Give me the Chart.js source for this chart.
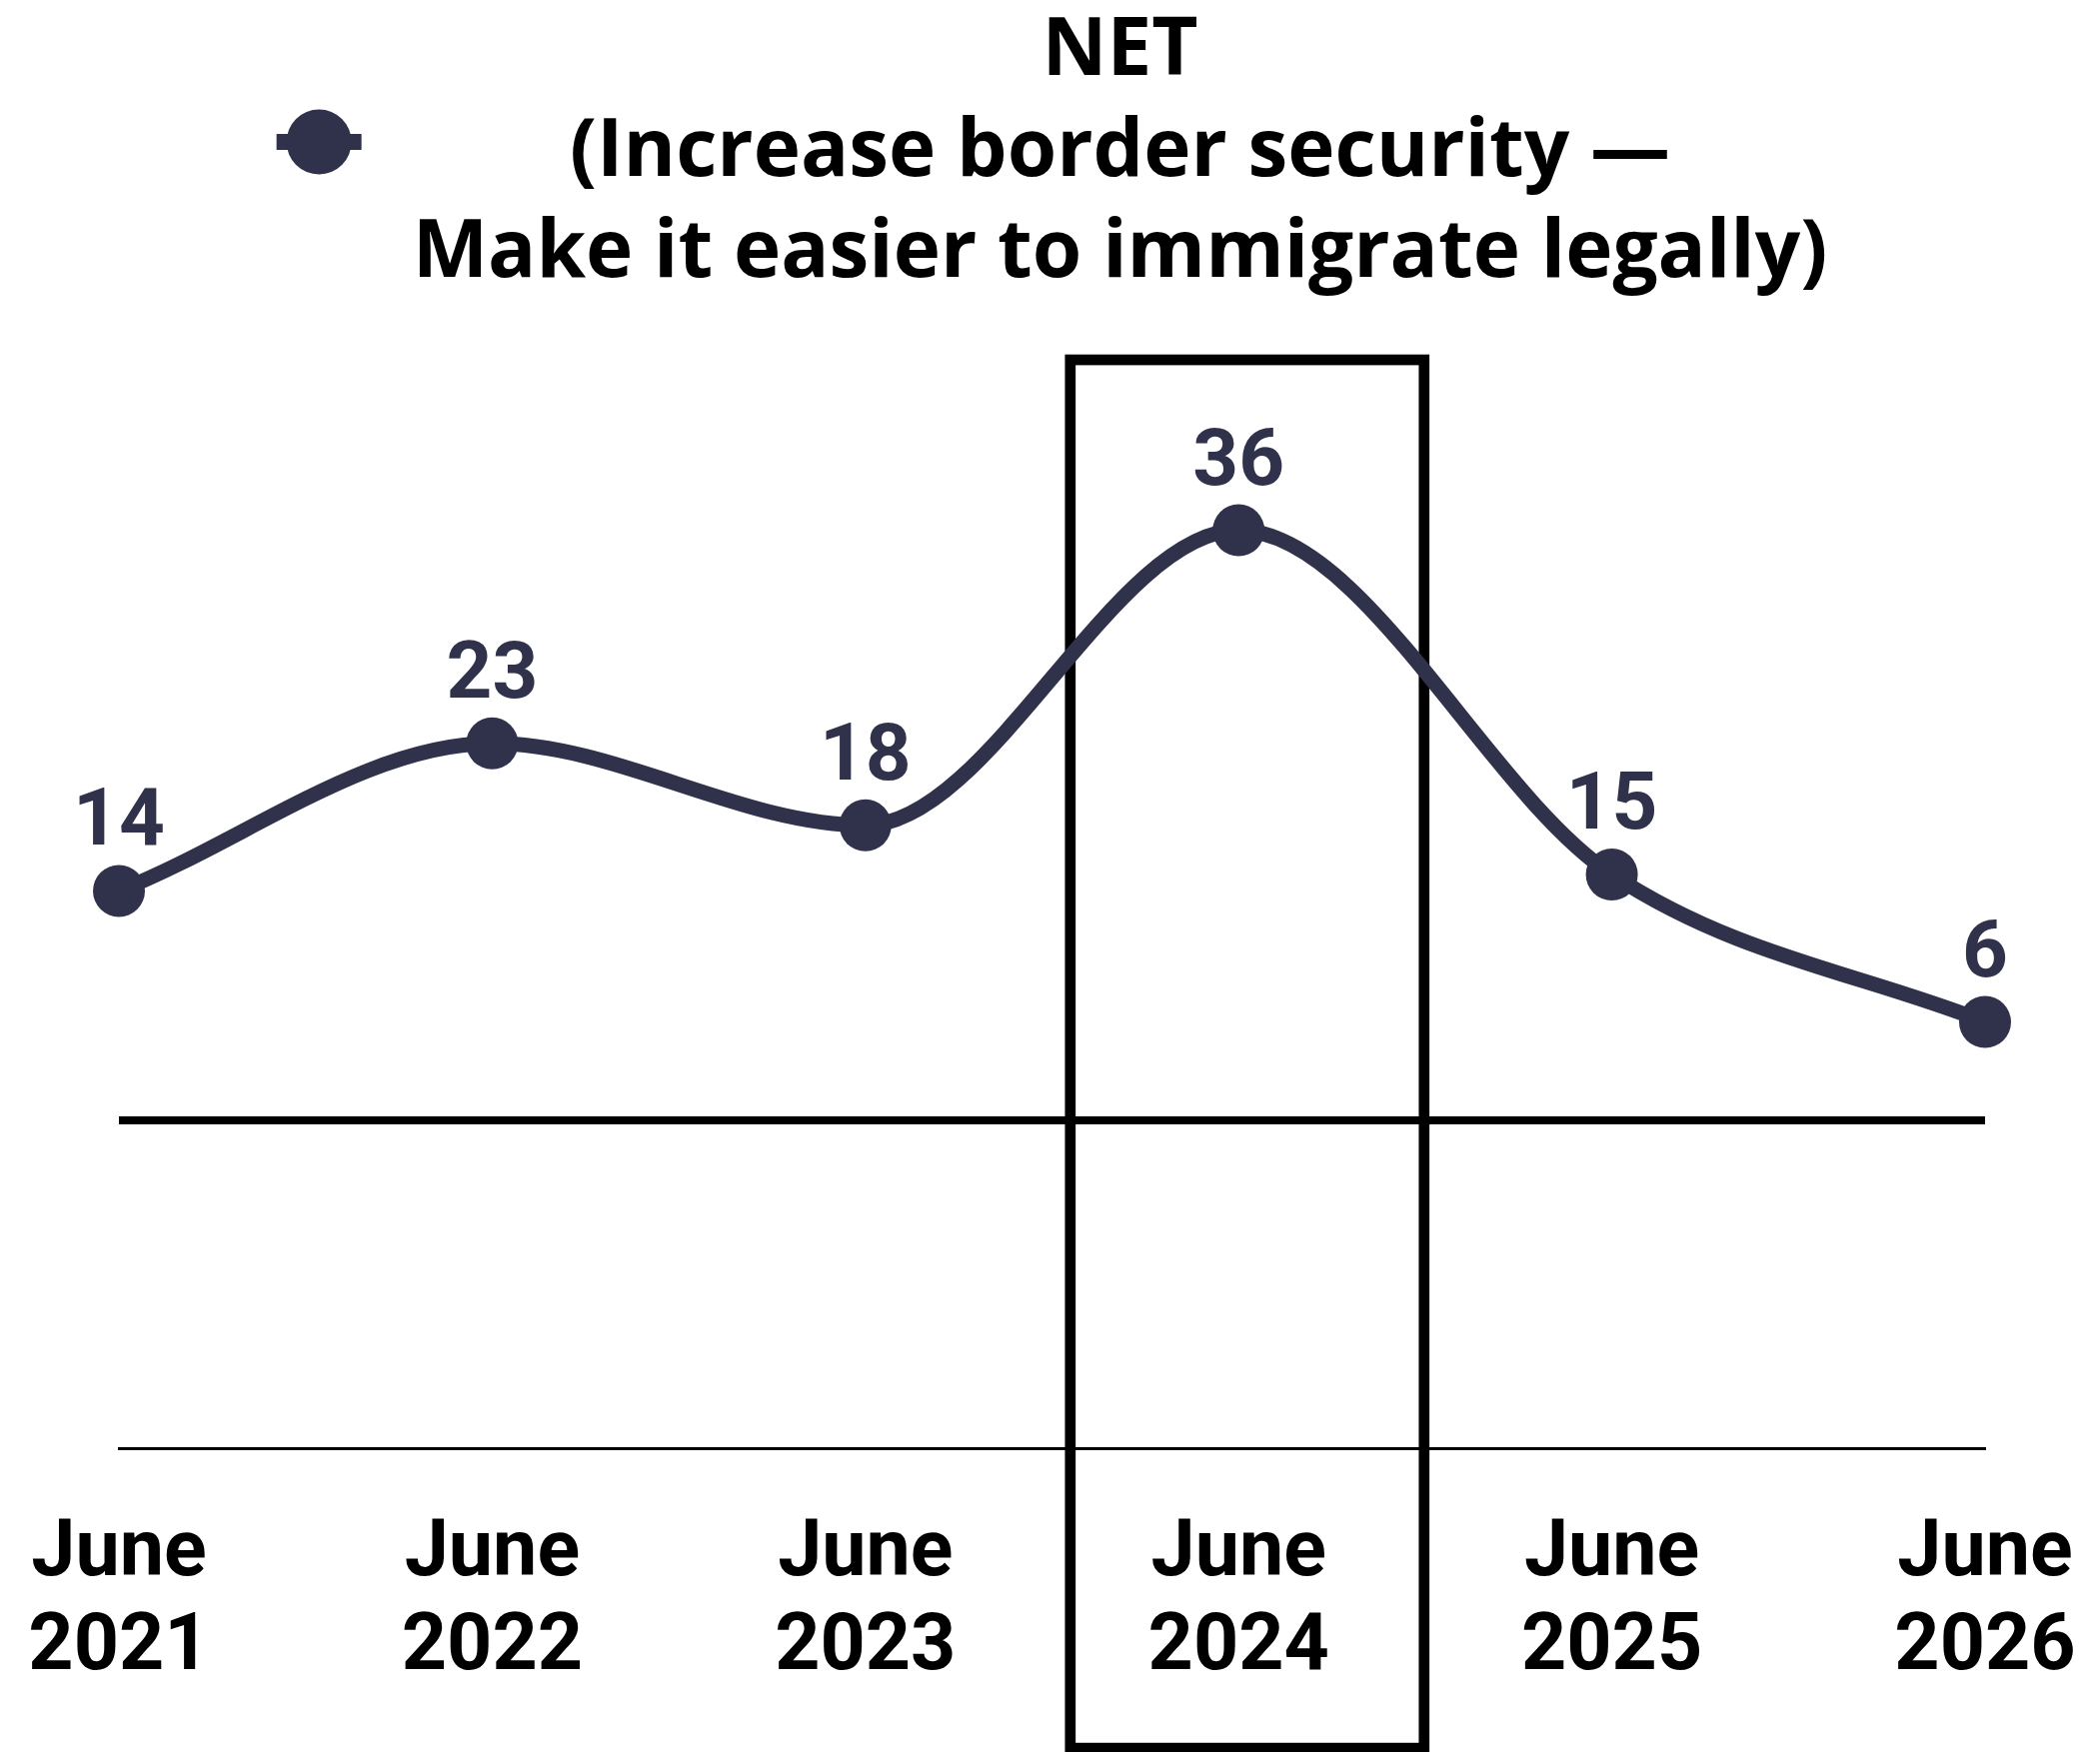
<!DOCTYPE html>
<html>
<head>
<meta charset="utf-8">
<script src="https://cdn.jsdelivr.net/npm/chart.js@4.4.1/dist/chart.umd.min.js"></script>
<style>
  html, body { margin: 0; padding: 0; background: #ffffff; }
  #wrap { width: 2101px; height: 1753px; position: relative; }
</style>
</head>
<body>
<div id="wrap"><canvas id="c"></canvas></div>
<script>
// ---- data ----
const monthLabels = ['June', 'June', 'June', 'June', 'June', 'June'];
const yearLabels = ['2021', '2022', '2023', '2024', '2025', '2026'];
const netValues = [14, 23, 18, 36, 15, 6];
const legendLines = ['NET', '(Increase border security \u2014', 'Make it easier to immigrate legally)'];
const highlightIndex = 3;
const yMin = -20;
const yMax = 40;

// ---- styles ----
const NAVY = '#30314a';
const FONT = 'Roboto';
const TITLE_FONT = '"Open Sans"';

const categories = monthLabels.map((m, i) => [m, yearLabels[i]]);

const legendPlugin = {
  id: 'topLegend',
  afterDraw(chart) {
    const ctx = chart.ctx;
    const ca = chart.chartArea;
    ctx.save();
    ctx.font = 'bold 80px ' + TITLE_FONT;
    let w = 0;
    legendLines.forEach(l => { w = Math.max(w, ctx.measureText(l).width); });
    const markerW = 85, gap = 51;
    const total = markerW + gap + w;
    const start = (ca.left + ca.right) / 2 - total / 2;
    // marker
    const my = 142;
    const mx = start + markerW / 2;
    ctx.fillStyle = NAVY;
    ctx.fillRect(start, my - 8, markerW, 16);
    ctx.beginPath();
    ctx.arc(mx, my, 32.5, 0, Math.PI * 2);
    ctx.fill();
    // text
    const tx = start + markerW + gap + w / 2;
    ctx.fillStyle = '#000000';
    ctx.textAlign = 'center';
    ctx.textBaseline = 'alphabetic';
    legendLines.forEach((l, i) => {
      ctx.fillText(l, tx, 75 + i * 101);
    });
    ctx.restore();
  }
};

const boxPlugin = {
  id: 'highlightBox',
  beforeDatasetsDraw(chart) {
    const x = chart.scales.x, y = chart.scales.y;
    const cx = x.getPixelForValue(highlightIndex);
    const step = x.getPixelForValue(1) - x.getPixelForValue(0);
    const left = cx - 0.451 * step;
    const right = cx + 0.497 * step;
    const top = y.getPixelForValue(46.4);
    const bottom = y.getPixelForValue(-38.3);
    const ctx = chart.ctx;
    ctx.save();
    ctx.strokeStyle = '#000000';
    ctx.lineWidth = 10.7;
    ctx.strokeRect(left, top, right - left, bottom - top);
    ctx.restore();
  }
};

const valueLabelPlugin = {
  id: 'valueLabels',
  afterDatasetsDraw(chart) {
    const ctx = chart.ctx;
    const meta = chart.getDatasetMeta(0);
    ctx.save();
    ctx.font = 'bold 80px ' + FONT;
    ctx.fillStyle = NAVY;
    ctx.textAlign = 'center';
    ctx.textBaseline = 'alphabetic';
    meta.data.forEach((pt, i) => {
      ctx.fillText(String(chart.data.datasets[0].data[i]), pt.x, pt.y - 46);
    });
    ctx.restore();
  }
};

new Chart(document.getElementById('c'), {
  type: 'line',
  data: {
    labels: categories,
    datasets: [{
      label: legendLines.join(' '),
      data: netValues,
      borderColor: NAVY,
      backgroundColor: NAVY,
      borderWidth: 15,
      cubicInterpolationMode: 'monotone',
      pointRadius: 26,
      pointHoverRadius: 26,
      pointBorderWidth: 0,
      pointBackgroundColor: NAVY,
      clip: false
    }]
  },
  options: {
    responsive: true,
    maintainAspectRatio: false,
    devicePixelRatio: 1,
    animation: false,
    events: [],
    layout: { padding: { top: 465, left: 119, right: 115, bottom: 0 } },
    plugins: {
      legend: { display: false },
      title: { display: false },
      tooltip: { enabled: false }
    },
    scales: {
      x: {
        offset: false,
        grid: { display: false, drawTicks: false },
        border: { display: true, color: '#000000', width: 3 },
        ticks: {
          color: '#000000',
          font: { family: FONT, size: 79, weight: 'bold', lineHeight: 1.19 },
          padding: 60,
          maxRotation: 0,
          autoSkip: false
        },
        afterFit(scale) {
          scale.height = 304;
          scale.paddingLeft = 0;
          scale.paddingRight = 0;
        }
      },
      y: {
        min: yMin,
        max: yMax,
        ticks: { display: false, stepSize: 20 },
        border: { display: false },
        grid: {
          drawTicks: false,
          color: ctx => (ctx.tick && ctx.tick.value === 0) ? '#000000' : 'rgba(0,0,0,0)',
          lineWidth: ctx => (ctx.tick && ctx.tick.value === 0) ? 8 : 0
        },
        afterFit(scale) { scale.width = 0; }
      }
    }
  },
  plugins: [boxPlugin, valueLabelPlugin, legendPlugin]
});
</script>
</body>
</html>
